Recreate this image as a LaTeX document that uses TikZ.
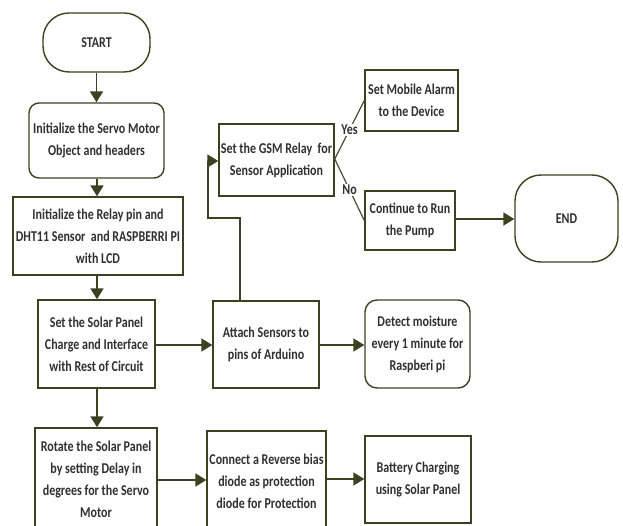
\documentclass[tikz,border=0pt]{standalone}
\usepackage{fontspec}
\setmainfont{Carlito}[FakeStretch=0.8, UprightFont=* Bold]
\usetikzlibrary{arrows.meta}
\definecolor{olive}{HTML}{3A4220}
\definecolor{txt}{HTML}{303030}
\tikzset{
  box/.style={draw=olive, line width=1.4pt, fill=white, align=center, inner sep=2pt,
    font=\fontsize{15}{22}\selectfont, text=txt},
  rbox/.style={box, rounded corners=10pt},
  term/.style={box, rounded corners=26pt},
  arr/.style={draw=olive, line width=1.8pt, -{Triangle[length=11pt,width=13pt]}},
  ln/.style={draw=olive!80!gray, line width=1.2pt},
  lbl/.style={fill=white, inner sep=1pt, font=\fontsize{15}{18}\selectfont, text=txt}
}
\begin{document}
\begin{tikzpicture}[x=1pt,y=-1pt]
\useasboundingbox[fill=white] (0,0) rectangle (623,526);
\node[term, minimum width=107pt, minimum height=59pt] (start) at (96.5,42.5) {START};
\node[rbox, minimum width=135pt, minimum height=75pt] (servo) at (96.5,140.5) {Initialize the Servo Motor\\Object and headers};
\node[box, minimum width=170pt, minimum height=78pt] (relay) at (98,236) {Initialize the Relay pin and\\DHT11 Sensor\ \ and RASPBERRI PI\\with LCD};
\node[box, minimum width=117pt, minimum height=88pt] (solar) at (96.5,344) {Set the Solar Panel\\Charge and Interface\\with Rest of Circuit};
\node[box, minimum width=122pt, minimum height=102pt] (rotate) at (96,479) {Rotate the Solar Panel\\by setting Delay in\\degrees for the Servo\\Motor};
\node[box, minimum width=106pt, minimum height=87pt] (attach) at (266,344.5) {Attach Sensors to\\pins of Arduino};
\node[rbox, rounded corners=12pt, minimum width=105pt, minimum height=88pt] (detect) at (417.5,344) {Detect moisture\\every 1 minute for\\Raspberi pi};
\node[box, minimum width=119pt, minimum height=100pt] (connect) at (266.5,481) {Connect a Reverse bias\\diode as protection\\diode for Protection};
\node[box, minimum width=106pt, minimum height=87pt] (battery) at (418,479.5) {Battery Charging\\using Solar Panel};
\node[box, minimum width=109pt, minimum height=72pt] (gsm) at (276.5,160) {Set the GSM Relay\ \ for\\Sensor Application};
\node[box, minimum width=93pt, minimum height=61pt] (alarm) at (411.5,100.5) {Set Mobile Alarm\\to the Device};
\node[box, minimum width=90pt, minimum height=59pt] (cont) at (410,220.5) {Continue to Run\\the Pump};
\node[term, minimum width=103pt, minimum height=87pt] (end) at (566.5,218.5) {END};

\draw[arr] (start) -- (servo);
\draw[arr] (servo.south -| 97,0) -- (relay.north -| 97,0);
\draw[arr] (relay.south -| 97,0) -- (solar.north -| 97,0);
\draw[arr] (solar.south -| 97,0) -- (rotate.north -| 97,0);
\draw[arr] (solar.east |- 0,345) -- (attach.west |- 0,345);
\draw[arr] (attach.east |- 0,345) -- (detect.west |- 0,345);
\draw[arr] (rotate.east |- 0,480) -- (connect.west |- 0,480);
\draw[arr] (connect.east |- 0,479) -- (battery.west |- 0,479);
\draw[arr] (cont.east |- 0,219) -- (end.west |- 0,219);
\coordinate (c1) at (240,218);
\coordinate (c2) at (208,218);
\coordinate (c3) at (208,161);
\draw[arr] (attach.north -| c1) -- (c1) -- (c2) -- (c3) -- (gsm.west |- c3);
\coordinate (g1) at (331,159);
\draw[ln] (gsm.east |- g1) -- node[lbl] (yes) {Yes} (alarm.west);
\draw[ln] (gsm.east |- g1) -- node[lbl] (no) {No} (cont.west);
\end{tikzpicture}
\end{document}
